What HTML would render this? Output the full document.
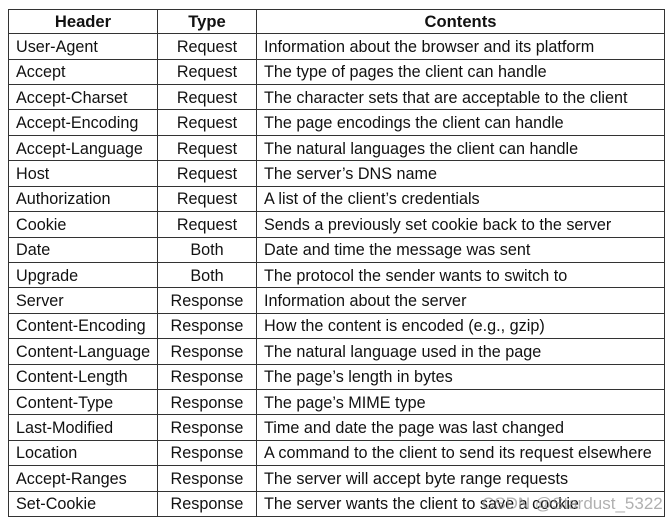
<!DOCTYPE html>
<html><head><style>
body{margin:0;background:#fff;width:672px;height:529px;overflow:hidden;font-family:"Liberation Sans",Arial,sans-serif;}
table{position:absolute;left:8px;top:9px;border-collapse:collapse;width:657px;height:508px;}
td,th{border:1.5px solid #333;padding:1px 0 0 7px;font-size:16.2px;color:#111;line-height:20px;white-space:nowrap;}
th{text-align:center;font-weight:bold;padding:0;font-size:16.6px;}
td.t{text-align:center;padding:1px 0 0 0;}
.wm{position:absolute;left:482px;top:494px;font-size:17px;color:rgba(150,150,150,0.75);}
</style></head><body>
<table>
<colgroup><col style="width:149px"><col style="width:99px"><col></colgroup>
<tr><th>Header</th><th>Type</th><th>Contents</th></tr>
<tr><td>User-Agent</td><td class="t">Request</td><td>Information about the browser and its platform</td></tr>
<tr><td>Accept</td><td class="t">Request</td><td>The type of pages the client can handle</td></tr>
<tr><td>Accept-Charset</td><td class="t">Request</td><td>The character sets that are acceptable to the client</td></tr>
<tr><td>Accept-Encoding</td><td class="t">Request</td><td>The page encodings the client can handle</td></tr>
<tr><td>Accept-Language</td><td class="t">Request</td><td>The natural languages the client can handle</td></tr>
<tr><td>Host</td><td class="t">Request</td><td>The server’s DNS name</td></tr>
<tr><td>Authorization</td><td class="t">Request</td><td>A list of the client’s credentials</td></tr>
<tr><td>Cookie</td><td class="t">Request</td><td>Sends a previously set cookie back to the server</td></tr>
<tr><td>Date</td><td class="t">Both</td><td>Date and time the message was sent</td></tr>
<tr><td>Upgrade</td><td class="t">Both</td><td>The protocol the sender wants to switch to</td></tr>
<tr><td>Server</td><td class="t">Response</td><td>Information about the server</td></tr>
<tr><td>Content-Encoding</td><td class="t">Response</td><td>How the content is encoded (e.g., gzip)</td></tr>
<tr><td>Content-Language</td><td class="t">Response</td><td>The natural language used in the page</td></tr>
<tr><td>Content-Length</td><td class="t">Response</td><td>The page’s length in bytes</td></tr>
<tr><td>Content-Type</td><td class="t">Response</td><td>The page’s MIME type</td></tr>
<tr><td>Last-Modified</td><td class="t">Response</td><td>Time and date the page was last changed</td></tr>
<tr><td>Location</td><td class="t">Response</td><td>A command to the client to send its request elsewhere</td></tr>
<tr><td>Accept-Ranges</td><td class="t">Response</td><td>The server will accept byte range requests</td></tr>
<tr><td>Set-Cookie</td><td class="t">Response</td><td>The server wants the client to save a cookie</td></tr>
</table>
<div class="wm">CSDN @Stardust_5322</div>
</body></html>
